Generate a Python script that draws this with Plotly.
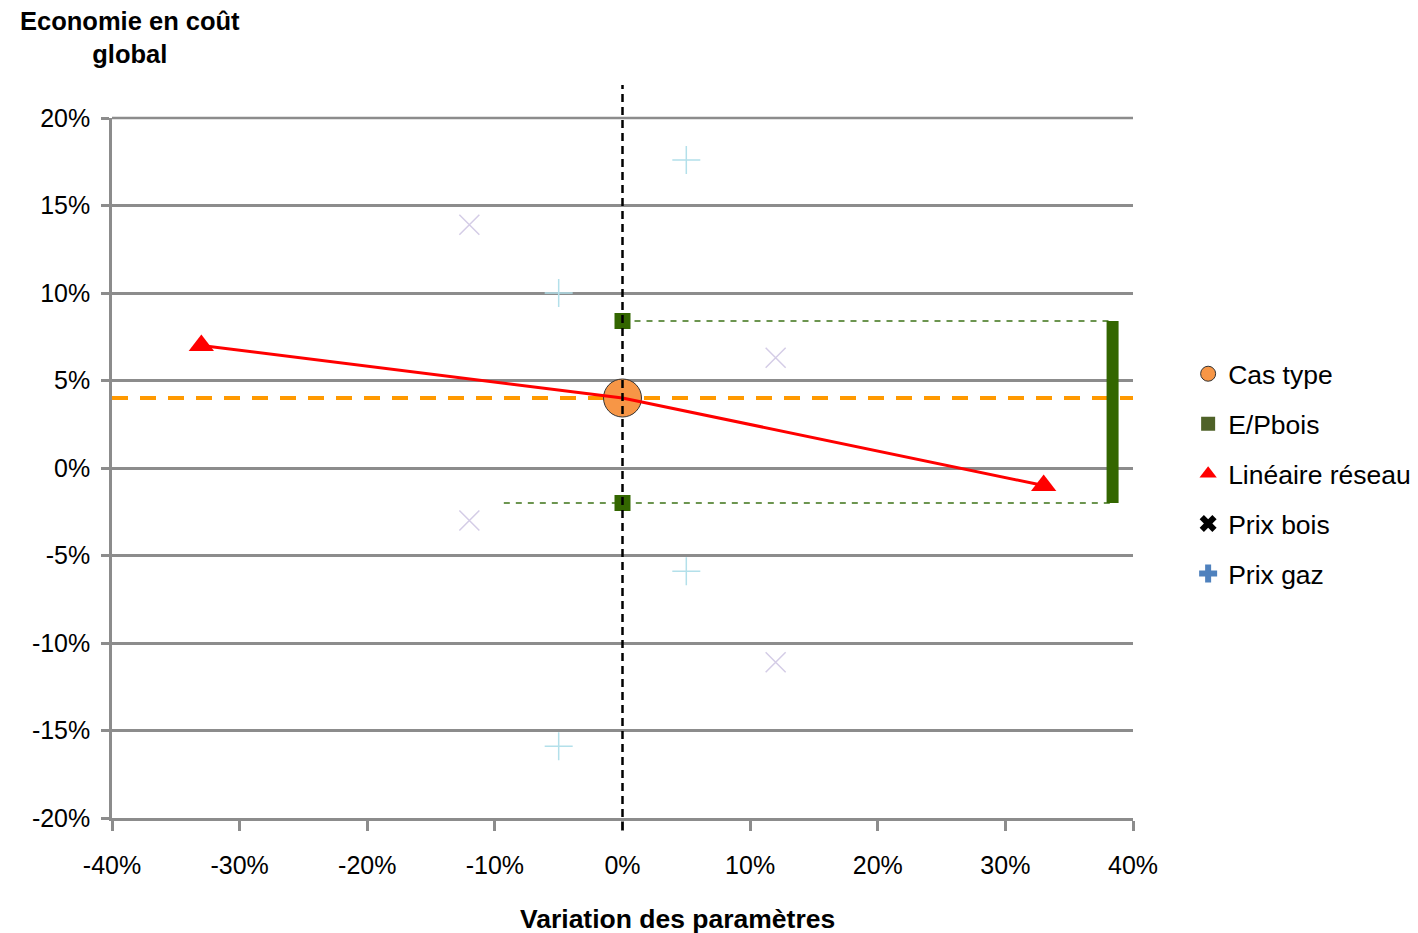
import plotly.graph_objects as go

# ---- data (percent units) ----
cas_x = [0]
cas_y = [4.0]

epbois_x = [0, 0]
epbois_y = [8.4, -2.0]
epbois_bar_x = 38.4
epbois_low_start = -9.3

lineaire_x = [-33, 33]
lineaire_y = [7.0, -1.0]

prix_bois_x = [-12, -12, 12, 12]
prix_bois_y = [13.9, -3.0, 6.3, -11.1]

prix_gaz_x = [-5, -5, 5, 5]
prix_gaz_y = [10.0, -15.9, 17.6, -5.9]

x_ticks = [-40, -30, -20, -10, 0, 10, 20, 30, 40]
y_ticks = [-20, -15, -10, -5, 0, 5, 10, 15, 20]

FONT = "Liberation Sans, Arial, sans-serif"
GRID = "#8c8c8c"
GREEN = "#336600"

# page body has an 8px margin; plot area target: x 112..1133, y 118..818
OFF = 8
L, T, PW, PH = 112 - OFF, 118 - OFF, 1021, 700

fig = go.Figure()

# orange reference line at the base case value
fig.add_trace(go.Scatter(x=[x_ticks[0], x_ticks[-1]], y=[cas_y[0], cas_y[0]], mode="lines",
                         line=dict(color="#FF9900", width=4, dash="16px,12px"),
                         showlegend=False, hoverinfo="skip"))

# E/Pbois dashed guides and range bar
fig.add_trace(go.Scatter(x=[epbois_x[0], epbois_bar_x], y=[epbois_y[0], epbois_y[0]], mode="lines",
                         line=dict(color="#3d7317", width=1.5, dash="6px,6px"),
                         showlegend=False, hoverinfo="skip"))
fig.add_trace(go.Scatter(x=[epbois_low_start, epbois_bar_x], y=[epbois_y[1], epbois_y[1]], mode="lines",
                         line=dict(color="#3d7317", width=1.5, dash="6px,6px"),
                         showlegend=False, hoverinfo="skip"))
fig.add_trace(go.Scatter(x=[epbois_bar_x, epbois_bar_x], y=epbois_y, mode="lines",
                         line=dict(color=GREEN, width=12),
                         showlegend=False, hoverinfo="skip"))

# faint sensitivity markers
fig.add_trace(go.Scatter(x=prix_bois_x, y=prix_bois_y, mode="markers",
                         marker=dict(symbol="x-thin-open", size=20, color="#d4cce6",
                                     line=dict(color="#d4cce6", width=1.5)),
                         showlegend=False, name="Prix bois"))
fig.add_trace(go.Scatter(x=prix_gaz_x, y=prix_gaz_y, mode="markers",
                         marker=dict(symbol="cross-thin-open", size=20, color="#b3e0ea",
                                     line=dict(color="#b3e0ea", width=1.5)),
                         showlegend=False, name="Prix gaz"))

# Cas type
fig.add_trace(go.Scatter(x=cas_x, y=cas_y, mode="markers",
                         marker=dict(symbol="circle", size=38, color="#F79646",
                                     line=dict(color="#333333", width=1)),
                         showlegend=False, name="Cas type"))

# E/Pbois squares
fig.add_trace(go.Scatter(x=epbois_x, y=epbois_y, mode="markers",
                         marker=dict(symbol="square", size=16, color=GREEN),
                         showlegend=False, name="E/Pbois"))

# Linéaire réseau
fig.add_trace(go.Scatter(x=[lineaire_x[0], cas_x[0], lineaire_x[1]],
                         y=[lineaire_y[0], cas_y[0], lineaire_y[1]], mode="lines",
                         line=dict(color="#FF0000", width=3),
                         showlegend=False, hoverinfo="skip"))
fig.add_trace(go.Scatter(x=lineaire_x, y=lineaire_y, mode="markers",
                         marker=dict(symbol="triangle-up", size=22, color="#FF0000"),
                         showlegend=False, name="Linéaire réseau"))

# legend entries
legend_items = [
    ("Cas type", dict(symbol="circle", size=15, color="#F79646", line=dict(color="#333333", width=1))),
    ("E/Pbois", dict(symbol="square", size=14, color="#4F6228")),
    ("Linéaire réseau", dict(symbol="triangle-up", size=15, color="#FF0000")),
    ("Prix bois", dict(symbol="x", size=15, color="#000000")),
    ("Prix gaz", dict(symbol="cross", size=15, color="#4F81BD")),
]
for i, (name, mk) in enumerate(legend_items):
    fig.add_trace(go.Scatter(x=[None], y=[None], mode="markers", marker=mk, name=name,
                             legendgroup=f"g{i}", showlegend=True))

# top gridline (at range edge) and vertical black dashed line at 0
fig.add_shape(type="line", xref="paper", yref="paper", x0=0, x1=1, y0=1, y1=1,
              line=dict(color=GRID, width=2.5), layer="below")
fig.add_shape(type="line", xref="x", yref="paper", x0=0, x1=0, y0=-0.017, y1=1.047,
              line=dict(color="#000000", width=2.5, dash="8px,5px"), layer="above")

fig.add_annotation(text="<b>Economie en coût<br>global</b>", xref="paper", yref="paper",
                   x=(130 - 112) / PW, y=(818 - 38) / PH, xanchor="center", yanchor="middle",
                   showarrow=False, font=dict(family=FONT, size=25.5, color="#000000"))
fig.add_annotation(text="<b>Variation des paramètres</b>", xref="paper", yref="paper",
                   x=(677 - 112) / PW, y=(818 - 919) / PH, xanchor="center", yanchor="middle",
                   showarrow=False, font=dict(family=FONT, size=26.5, color="#000000"))

fig.update_layout(
    width=1418, height=933,
    margin=dict(l=L, r=1418 - L - PW, t=T, b=933 - T - PH, autoexpand=False),
    paper_bgcolor="white", plot_bgcolor="white",
    font=dict(family=FONT, size=25, color="#000000"),
    legend=dict(x=1.054, xanchor="left", y=(818 - 350) / PH, yanchor="top",
                font=dict(size=26.5), tracegroupgap=12.5, itemwidth=30,
                bgcolor="rgba(0,0,0,0)"),
    xaxis=dict(range=[-40, 40], tickvals=x_ticks, ticktext=[f"{v}%" for v in x_ticks],
               showgrid=False, zeroline=False, showline=True, linecolor=GRID, linewidth=2.5,
               ticks="outside", ticklen=10, tickwidth=2.5, tickcolor=GRID,
               ticklabelstandoff=13, fixedrange=True),
    yaxis=dict(range=[-20, 20], tickvals=y_ticks, ticktext=[f"{v}%" for v in y_ticks],
               showgrid=True, gridcolor=GRID, gridwidth=2.5, zeroline=False,
               showline=True, linecolor=GRID, linewidth=2.5,
               ticks="outside", ticklen=8, tickwidth=2.5, tickcolor=GRID,
               ticklabelstandoff=6, fixedrange=True),
)

fig.write_html("out.html")
